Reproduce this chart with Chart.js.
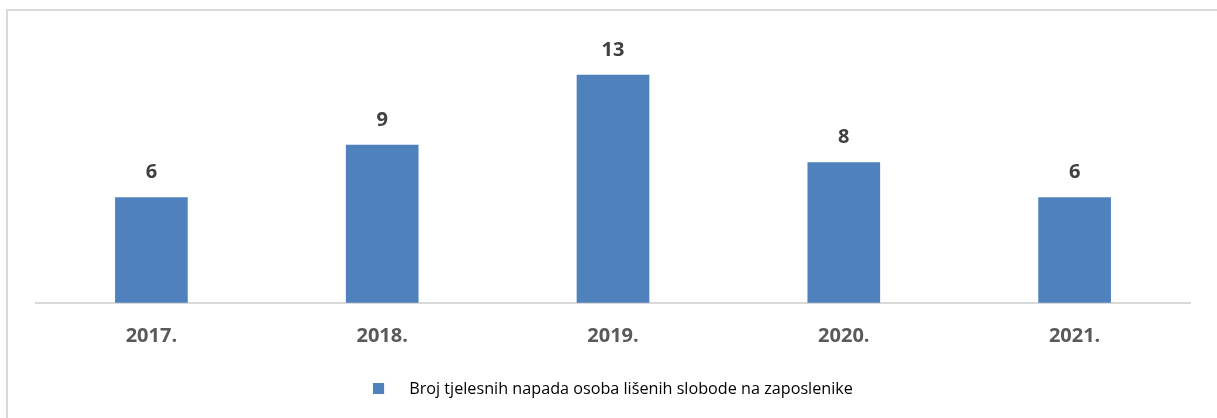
<!DOCTYPE html>
<html>
<head>
<meta charset="utf-8">
<script src="https://cdn.jsdelivr.net/npm/chart.js@4"></script>
<style>
  html, body { margin: 0; padding: 0; background: #fff; }
  #wrap { position: relative; width: 1217px; height: 418px; overflow: hidden; }
  #frame { position: absolute; left: 6px; top: 9px; width: 1400px; height: 600px;
           border-left: 2px solid #d9d9d9; border-top: 2px solid #d9d9d9; }
  canvas { position: absolute; left: 0; top: 0; }
</style>
</head>
<body>
<div id="wrap">
  <div id="frame"></div>
  <canvas id="chart" width="1217" height="418"></canvas>
</div>
<script>
// data
const years = ["2017.", "2018.", "2019.", "2020.", "2021."];
const attacks = [6, 9, 13, 8, 6];
const seriesName = "Broj tjelesnih napada osoba lišenih slobode na zaposlenike";

const barColor = "#4f81bd";
const fontFamily = "'Open Sans', 'Liberation Sans', sans-serif";

// legend marker: small square at the left of a wider box, so the text sits further away
const markerWidth = 28;
const marker = document.createElement("canvas");
marker.width = markerWidth;
marker.height = 11;
const mctx = marker.getContext("2d");
mctx.fillStyle = barColor;
mctx.fillRect(0, 0, 11, 11);

// value labels over the bars
const valueLabels = {
  id: "valueLabels",
  afterDatasetsDraw(chart) {
    const ctx = chart.ctx;
    const meta = chart.getDatasetMeta(0);
    ctx.save();
    ctx.font = "bold 20px " + fontFamily;
    ctx.fillStyle = "#404040";
    ctx.textAlign = "center";
    ctx.textBaseline = "middle";
    meta.data.forEach((bar, i) => {
      ctx.fillText(String(attacks[i]), bar.x, bar.y - 25);
    });
    ctx.restore();
  }
};

new Chart(document.getElementById("chart"), {
  type: "bar",
  data: {
    labels: years,
    datasets: [{
      label: seriesName,
      data: attacks,
      backgroundColor: barColor,
      barThickness: 72
    }]
  },
  options: {
    responsive: false,
    animation: false,
    layout: { padding: { left: 36, right: 27, top: 40, bottom: 11 } },
    scales: {
      y: { display: false, min: 0, max: 15 },
      x: {
        grid: { display: false },
        border: { color: "#d9d9d9", width: 2 },
        ticks: { color: "#595959", font: { family: fontFamily, size: 20, weight: "bold" }, padding: 13 },
        afterFit(scale) { scale.height = 68; }
      }
    },
    plugins: {
      tooltip: { enabled: false },
      legend: {
        position: "bottom",
        labels: {
          usePointStyle: true,
          pointStyleWidth: markerWidth,
          color: "#404040",
          font: { family: fontFamily, size: 16.2 },
          generateLabels(chart) {
            return [{ text: seriesName, pointStyle: marker, fillStyle: barColor, strokeStyle: barColor, lineWidth: 0, datasetIndex: 0 }];
          }
        }
      }
    }
  },
  plugins: [valueLabels]
});
</script>
</body>
</html>
